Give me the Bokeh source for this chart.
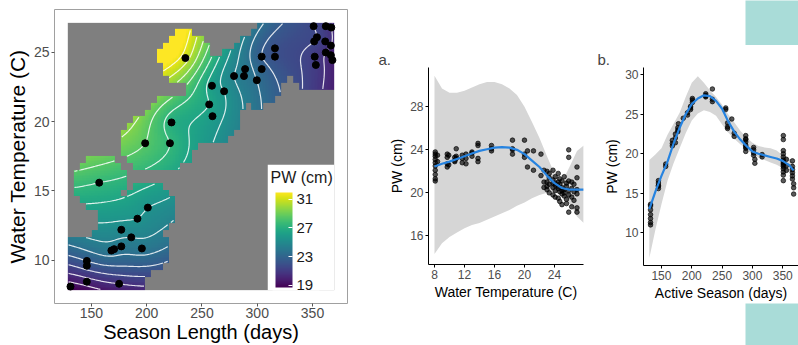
import numpy as np
from bokeh.plotting import figure
from bokeh.layouts import row, column
from bokeh.models import (LinearColorMapper, ColorBar, FixedTicker, Spacer, Range1d,
                          BoxAnnotation, Label)
from bokeh.palettes import Viridis256
from bokeh.embed import file_html
from bokeh.resources import INLINE

FONT = "Liberation Sans"
TEAL = "#A9DCD8"
BLUE = "#2683E0"
RIBBON = "#D6D6D6"

# ---------------- Left panel: sites (season length, water temperature, PW) ----
site_season = [235, 259, 270, 256.5, 259.5, 279, 288, 289, 299.6, 304, 304, 316, 316,
               351, 362, 367, 354, 351.5, 361.5, 366.6, 362, 366.6, 352, 353, 368,
               222.4, 198.6, 221, 157, 201, 191.6, 177, 186, 177, 168, 170.5, 195.6,
               145.8, 145.8, 145.8, 175, 131]
site_temp = [24.6, 22.6, 22.2, 21.25, 20.4, 23.3, 23.3, 23.8, 23.0, 24.7, 23.8, 25.3, 24.7,
             26.9, 26.9, 26.8, 26.1, 25.8, 25.8, 25.5, 25.0, 24.8, 24.7, 24.1, 24.45,
             19.95, 18.45, 18.45, 15.6, 13.8, 13.0, 12.2, 11.65, 11.0, 10.7, 10.8, 10.85,
             9.95, 9.6, 8.45, 8.3, 8.1]
site_pw = [31.0, 26.0, 25.5, 26.5, 26.0, 24.5, 24.0, 24.0, 23.5, 22.5, 23.0, 22.0, 22.0,
           21.5, 21.0, 20.5, 21.5, 21.5, 21.0, 20.5, 20.5, 20.0, 21.0, 21.0, 20.0,
           27.0, 28.5, 27.5, 27.5, 25.5, 25.5, 25.0, 24.5, 24.0, 24.0, 24.0, 24.0,
           22.5, 22.0, 20.0, 20.5, 19.0]
season_ticks = [150, 200, 250, 300, 350]
temp_ticks = [10, 15, 20, 25]
pw_legend_ticks = [19, 23, 27, 31]
contour_levels = [19.5, 20.5, 21.5, 22.5, 23.5, 24.5, 25.5, 26.5, 27.5, 28.5, 29.5, 30.5, 31.5]

# ---------------- Panel a: PW vs water temperature ----------------
a_temp = [8.1] * 10 + [8.4] * 2 + [9.7] * 4 + [9.9] * 2 + [10.7] * 3 + [10.9] * 3 + [11.7] * 3 + \
         [12.2] * 3 + [13.0] * 3 + [13.8] * 4 + [15.6] * 3 + [18.4] * 4 + [20.0] * 3 + [20.4] * 2 + \
         [21.2] * 2 + [22.2] * 2 + [22.6] * 3 + [23.0] * 4 + [23.3] * 4 + [23.8] * 5 + [24.1] * 5 + \
         [24.5] * 5 + [24.7] * 4 + [25.0] * 5 + [25.3] * 4 + [25.6] * 4 + [25.9] * 6 + [26.3] * 4 + \
         [26.6] * 3 + [27.0] * 6
a_pw = [23.8, 23.6, 23.4, 23.1, 22.8, 22.5, 22.1, 21.7, 21.3, 21.1,
        23.5, 22.9,
        23.6, 23.3, 22.7, 22.4,
        22.6, 23.5,
        23.0, 23.3, 22.9,
        24.1, 23.4, 23.2,
        23.2, 22.8, 23.5,
        23.6, 23.2, 22.7,
        23.7, 23.4, 23.8,
        24.6, 24.4, 23.2, 22.9,
        24.4, 24.1, 23.9,
        24.9, 24.1, 23.6, 24.0,
        24.9, 23.6, 23.3,
        22.4, 23.9,
        23.9, 22.1,
        23.6, 21.6,
        20.5, 22.1, 21.0,
        21.0, 20.6, 22.0, 20.3,
        21.4, 20.8, 20.0, 21.8,
        21.2, 20.5, 20.9, 19.8, 22.1,
        20.7, 21.5, 20.2, 19.6, 20.9,
        20.4, 21.0, 19.5, 20.6, 21.8,
        20.1, 20.8, 19.2, 21.3,
        20.5, 19.9, 21.1, 20.2, 18.9,
        20.3, 19.7, 21.5, 20.0,
        20.6, 19.4, 20.9, 19.0,
        24.0, 23.3, 20.2, 18.2, 19.8, 21.1,
        20.4, 19.6, 18.7, 21.0,
        20.1, 19.3, 20.8,
        22.4, 21.4, 20.3, 18.6, 18.2, 19.9]
a_fit_t = [8, 9, 10, 11, 12, 13, 14, 15, 16, 17, 18, 19, 20, 21, 22, 23, 24, 25, 26, 27, 27.9]
a_fit = [22.45, 22.7, 22.9, 23.15, 23.4, 23.65, 23.9, 24.05, 24.2, 24.25, 24.2, 24.0, 23.6,
         23.0, 22.4, 21.6, 20.9, 20.45, 20.3, 20.3, 20.3]
a_lower = [14.3, 15.3, 15.9, 16.3, 16.7, 17.0, 17.2, 17.5, 17.8, 18.1, 18.4, 18.8, 19.1,
           19.5, 19.8, 20.0, 20.1, 19.9, 19.0, 17.8, 17.2]
a_upper = [30.9, 29.7, 29.3, 29.3, 29.5, 29.8, 30.1, 30.3, 30.3, 30.1, 29.7, 29.1, 28.0,
           26.6, 25.1, 23.4, 21.8, 21.0, 22.4, 23.9, 24.4]
a_xticks = [8, 12, 16, 20, 24]
a_yticks = [16, 20, 24, 28]

# ---------------- Panel b: PW vs active season ----------------
b_days = [132] * 7 + [145] * 5 + [157] * 2 + [168] * 3 + [173] * 3 + [177] * 3 + [178, 186] + \
         [193] * 2 + [198] * 3 + [201] * 3 + [223] * 4 + [234] * 3 + [256] * 2 + [259] * 3 + \
         [266] + [270] * 2 + [289] * 8 + [302] * 4 + [304] * 2 + [316] * 2 + [351] * 14 + \
         [356] * 3 + [366] * 6 + [368] * 3
b_pw = [13.6, 13.4, 12.9, 12.3, 11.8, 11.3, 11.0,
        16.6, 16.3, 15.9, 15.6, 16.0,
        18.7, 18.4,
        21.7, 21.3, 21.0,
        22.5, 22.0, 21.4,
        23.3, 22.8, 23.0,
        23.8, 24.5,
        25.2, 24.9,
        26.0, 25.6, 25.8,
        27.0, 26.8, 26.5,
        27.4, 27.2, 27.6, 27.3,
        28.2, 26.9, 26.6,
        25.8, 25.6,
        23.9, 23.4, 23.2,
        24.4,
        22.6, 22.2,
        22.3, 21.8, 21.5, 21.1, 20.7, 20.3, 21.9, 20.9,
        20.8, 20.5, 20.1, 19.8,
        19.3, 18.8,
        19.9, 19.6,
        22.3, 21.8, 20.4, 20.0, 19.6, 19.2, 18.8, 18.4, 18.1, 17.7, 17.3, 16.6, 19.0, 18.6,
        19.3, 18.5, 17.9,
        19.1, 18.4, 18.0, 17.6, 17.2, 16.8,
        15.7, 14.9, 16.2]
b_fit_d = [130, 140, 150, 160, 170, 180, 190, 200, 210, 220, 230, 240, 250, 260, 270, 280,
           290, 300, 310, 320, 330, 340, 350, 360, 368]
b_fit = [13.0, 15.2, 17.2, 19.0, 21.3, 23.3, 25.0, 26.3, 27.0, 27.4, 27.3, 26.7, 25.7, 24.1,
         22.8, 21.8, 21.0, 20.3, 20.0, 19.8, 19.6, 19.4, 19.1, 18.6, 17.9]
b_lower = [6.8, 10.4, 13.6, 16.6, 18.8, 20.7, 22.6, 24.2, 25.1, 25.5, 25.3, 24.8, 23.7, 22.7,
           21.9, 21.2, 20.6, 19.9, 19.5, 19.2, 18.9, 18.6, 18.2, 17.7, 17.3]
b_upper = [19.2, 19.9, 20.7, 22.4, 23.8, 25.2, 27.2, 29.0, 29.8, 29.0, 28.0, 27.2, 26.2, 25.0,
           24.0, 22.9, 22.1, 21.4, 21.0, 20.8, 20.7, 20.4, 19.8, 19.4, 18.9]
b_xticks = [150, 200, 250, 300, 350]
b_yticks = [10, 15, 20, 25, 30]

# ---------------- Interpolated surface (thin-plate spline through site values) ----
X0, X1, Y0, Y1 = 128.6, 369.6, 7.84, 27.14
sx, sy, sz = np.array(site_season), np.array(site_temp), np.array(site_pw)
u = (sx - X0) / (X1 - X0)
v = (sy - Y0) / (Y1 - Y0)


def tps_k(r):
    with np.errstate(divide="ignore", invalid="ignore"):
        k = r ** 2 * np.log(r)
    return np.nan_to_num(k)


n = len(sz)
lam = 2e-4
K = tps_k(np.hypot(u[:, None] - u[None, :], v[:, None] - v[None, :])) + lam * np.eye(n)
P = np.column_stack([np.ones(n), u, v])
A = np.block([[K, P], [P.T, np.zeros((3, 3))]])
sol = np.linalg.solve(A, np.concatenate([sz, np.zeros(3)]))
w, coef = sol[:n], sol[n:]

NXC, NYC, F = 45, 40, 4
nxf, nyf = NXC * F, NYC * F
uf = (np.arange(nxf) + 0.5) / nxf
vf = (np.arange(nyf) + 0.5) / nyf
UU, VV = np.meshgrid(uf, vf)
d = np.hypot(UU.ravel()[:, None] - u[None, :], VV.ravel()[:, None] - v[None, :])
zf = (tps_k(d) @ w + coef[0] + coef[1] * UU.ravel() + coef[2] * VV.ravel()).reshape(nyf, nxf)

uc = (np.arange(NXC) + 0.5) / NXC
vc = (np.arange(NYC) + 0.5) / NYC
UC, VC = np.meshgrid(uc, vc)
dc = np.hypot(UC.ravel()[:, None] - u[None, :], VC.ravel()[:, None] - v[None, :]).min(axis=1)
mask_c = (dc < 0.1).reshape(NYC, NXC)
mask_f = np.kron(mask_c, np.ones((F, F), dtype=bool))
zimg = np.where(mask_f, zf, np.nan)

xs_f = X0 + uf * (X1 - X0)
ys_f = Y0 + vf * (Y1 - Y0)


def style_axes(p, tick_size, tick_color, axis_line):
    for ax in (p.xaxis[0], p.yaxis[0]):
        ax.major_label_text_font = FONT
        ax.major_label_text_font_size = tick_size
        ax.major_label_text_color = tick_color
        ax.axis_label_text_font = FONT
        ax.axis_label_text_font_style = "normal"
        ax.axis_label_text_color = "#000000"
        ax.minor_tick_line_color = None
        ax.major_tick_in = 0
        ax.major_tick_out = 3
        ax.major_label_standoff = 2
        ax.axis_label_standoff = 2
        ax.axis_line_color = axis_line
    p.grid.visible = False


# ---------------- Left figure ----------------
mapper = LinearColorMapper(palette=Viridis256, low=18.7, high=31.95, nan_color="#7F7F7F")
left = figure(width=365, height=345, x_range=Range1d(116.55, 381.65),
              y_range=Range1d(6.875, 28.105), output_backend="svg", toolbar_location=None,
              min_border_left=54, min_border_right=18, min_border_top=9, min_border_bottom=41,
              frame_align=False,
              x_axis_label="Season Length (days)", y_axis_label="Water Temperature (C)")
left.image(image=[zimg], x=X0, y=Y0, dw=X1 - X0, dh=Y1 - Y0, color_mapper=mapper)
left.contour(xs_f, ys_f, zimg, contour_levels, line_color="white", line_width=1.2, line_alpha=0.85)
left.scatter(site_season, site_temp, size=7, color="black")
left.xaxis.ticker = FixedTicker(ticks=season_ticks)
left.yaxis.ticker = FixedTicker(ticks=temp_ticks)
style_axes(left, "14px", "#4D4D4D", None)
left.xaxis.axis_label_text_font_size = "20px"
left.xaxis.axis_label_standoff = 0
left.xaxis.major_label_standoff = 1
left.yaxis.axis_label_text_font_size = "21px"
for ax in (left.xaxis[0], left.yaxis[0]):
    ax.major_tick_line_color = "#555555"
left.outline_line_color = "#A0A0A0"
left.outline_line_width = 1

# legend: white box, colour bar, title
left.add_layout(BoxAnnotation(left=309.5, right=X1, bottom=Y0, top=16.9, fill_color="white",
                              fill_alpha=1.0, line_color=None))
cb = ColorBar(color_mapper=mapper, ticker=FixedTicker(ticks=pw_legend_ticks),
              location=(218, 13), margin=0, padding=3, width=17, height=95,
              major_label_text_font=FONT, major_label_text_font_size="15px",
              major_label_text_color="#1A1A1A",
              label_standoff=4, major_tick_line_color="white", major_tick_in=4,
              bar_line_color=None, border_line_color=None,
              background_fill_color="white", background_fill_alpha=1.0)
left.add_layout(cb)
left.add_layout(Label(x=312, y=16.6, text="PW (cm)", text_baseline="top", text_align="left",
                      text_font=FONT, text_font_size="16px", text_color="#1A1A1A"))

# ---------------- Panel a ----------------
pa = figure(width=223, height=345, x_range=Range1d(7.2, 27.87), y_range=Range1d(13.33, 31.66),
            output_backend="svg", toolbar_location=None, title="a.", frame_align=False,
            min_border_left=63, min_border_right=5, min_border_top=67, min_border_bottom=81,
            x_axis_label="Water Temperature (C)", y_axis_label="PW (cm)")
pa.varea(x=a_fit_t, y1=a_lower, y2=a_upper, fill_color=RIBBON)
pa.scatter(a_temp, a_pw, size=4.6, color="black", alpha=0.65)
pa.line(a_fit_t, a_fit, line_color=BLUE, line_width=2.2)
pa.xaxis.ticker = FixedTicker(ticks=a_xticks)
pa.yaxis.ticker = FixedTicker(ticks=a_yticks)
style_axes(pa, "12px", "#4D4D4D", "black")
pa.xaxis.axis_label_text_font_size = "14px"
pa.yaxis.axis_label_text_font_size = "14px"
pa.outline_line_color = None

# ---------------- Panel b ----------------
pb = figure(width=210, height=258, x_range=Range1d(120.4, 376), y_range=Range1d(5.86, 30.92),
            output_backend="svg", toolbar_location=None, title="b.", frame_align=False,
            min_border_left=55, min_border_right=0, min_border_top=22, min_border_bottom=38,
            x_axis_label="Active Season (days)", y_axis_label="PW (cm)")
pb.varea(x=b_fit_d, y1=b_lower, y2=b_upper, fill_color=RIBBON)
pb.scatter(b_days, b_pw, size=4.6, color="black", alpha=0.65)
pb.line(b_fit_d, b_fit, line_color=BLUE, line_width=2.2)
pb.xaxis.ticker = FixedTicker(ticks=b_xticks)
pb.yaxis.ticker = FixedTicker(ticks=b_yticks)
style_axes(pb, "12px", "#4D4D4D", "black")
pb.xaxis.axis_label_text_font_size = "14px"
pb.yaxis.axis_label_text_font_size = "14px"
pb.outline_line_color = None

for p, off in ((pa, -50), (pb, -46)):
    p.title.text_font = FONT
    p.title.text_font_size = "15px"
    p.title.text_font_style = "normal"
    p.title.align = "left"
    p.title.offset = off
    p.title.standoff = 0


def teal_box(w, h):
    f = figure(width=w, height=h, x_range=Range1d(0, 1), y_range=Range1d(0, 1),
               output_backend="svg", toolbar_location=None, min_border=0, frame_align=False,
               x_axis_type=None, y_axis_type=None, background_fill_color=TEAL,
               border_fill_color=TEAL, outline_line_color=None)
    f.grid.visible = False
    return f


col_b = column(row(Spacer(width=157, height=45), teal_box(53, 45)),
               pb,
               row(Spacer(width=157, height=42), teal_box(53, 42)))
layout = row(left, pa, col_b)

open("out.html", "w").write(file_html(layout, INLINE))
